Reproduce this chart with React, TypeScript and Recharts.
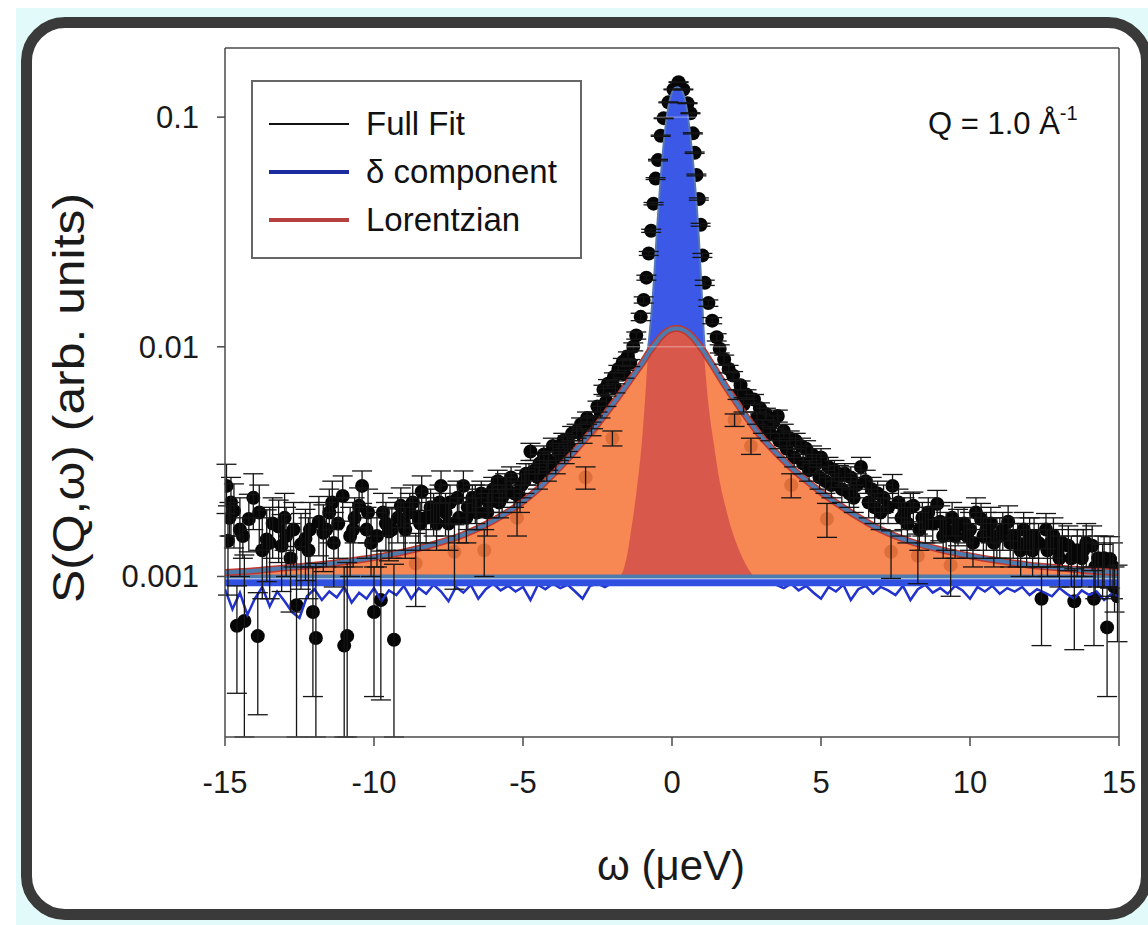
import React from 'react';
import {
  ComposedChart,
  Area,
  Line,
  Scatter,
  ErrorBar,
  XAxis,
  YAxis,
  ReferenceLine,
  Label,
} from 'recharts';

const FONT = '"Liberation Sans", Arial, Helvetica, sans-serif';

const xTicks = [-15, -10, -5, 0, 5, 10, 15];
const yTicks = [0.001, 0.01, 0.1];
const BASE = 0.001;
const Y_MIN = 0.0002;

// fitted curves on one grid (omega in ueV)
const fitX = [
  -15, -14, -13, -12, -11, -10, -9, -8, -7, -6, -5, -4.5, -4, -3.5, -3, -2.5, -2,
  -1.6, -1.3, -1.1, -1, -0.9, -0.8, -0.7, -0.6, -0.5, -0.4, -0.3, -0.2, -0.1, 0,
  0.1, 0.2, 0.3, 0.4, 0.5, 0.6, 0.7, 0.8, 0.9, 1, 1.1, 1.2, 1.4, 1.7, 2, 2.5, 3,
  3.5, 4, 4.5, 5, 6, 7, 8, 9, 10, 11, 12, 13, 14, 15,
];
const lorentzY = [
  0.00104, 0.00106, 0.00109, 0.00112, 0.00116, 0.00121, 0.00128, 0.00138, 0.00152,
  0.00175, 0.00212, 0.0024, 0.00278, 0.00325, 0.00385, 0.0046, 0.0056, 0.0066,
  0.0075, 0.00815, 0.0085, 0.0089, 0.00935, 0.00975, 0.01015, 0.01055, 0.01095,
  0.0113, 0.0116, 0.0118, 0.01195, 0.012, 0.012, 0.01195, 0.0118, 0.0116, 0.0113,
  0.011, 0.0106, 0.0102, 0.0098, 0.0094, 0.00895, 0.00815, 0.00705, 0.00615,
  0.00495, 0.00405, 0.00345, 0.00298, 0.00262, 0.00233, 0.0019, 0.0016, 0.00142,
  0.00131, 0.00123, 0.00117, 0.00112, 0.00109, 0.00106, 0.00104,
];
const fullFitY = [
  0.00104, 0.00106, 0.00109, 0.00112, 0.00116, 0.00121, 0.00128, 0.00138, 0.00152,
  0.00175, 0.00212, 0.0024, 0.00278, 0.00325, 0.00385, 0.0046, 0.0056, 0.0066,
  0.0075, 0.00815, 0.0085, 0.0089, 0.01, 0.0135, 0.02, 0.033, 0.05, 0.072, 0.095,
  0.115, 0.128, 0.134, 0.135, 0.132, 0.124, 0.108, 0.086, 0.065, 0.046, 0.03,
  0.017, 0.01, 0.00895, 0.00815, 0.00705, 0.00615, 0.00495, 0.00405, 0.00345,
  0.00298, 0.00262, 0.00233, 0.0019, 0.0016, 0.00142, 0.00131, 0.00123, 0.00117,
  0.00112, 0.00109, 0.00106, 0.00104,
];

// delta component, central part
const deltaX = [
  -2, -1.8, -1.7, -1.6, -1.5, -1.4, -1.2, -1, -0.9, -0.8, -0.7, -0.6, -0.5, -0.4,
  -0.3, -0.2, -0.1, 0, 0.1, 0.2, 0.3, 0.4, 0.5, 0.6, 0.7, 0.8, 0.9, 1, 1.1, 1.2,
  1.4, 1.6, 1.8, 2, 2.2, 2.4, 2.6, 2.8, 3,
];
const deltaY = [
  0.001, 0.001, 0.00102, 0.0011, 0.00125, 0.0015, 0.0023, 0.004, 0.006, 0.0095,
  0.013, 0.019, 0.028, 0.04, 0.062, 0.085, 0.104, 0.116, 0.121, 0.123, 0.12, 0.112,
  0.096, 0.075, 0.055, 0.036, 0.022, 0.0125, 0.0085, 0.006, 0.0038, 0.0026, 0.002,
  0.0016, 0.00135, 0.00118, 0.00106, 0.001, 0.001,
];

// delta component, noisy wings
const wingLeftX = [
  -15, -14.75, -14.5, -14.25, -14, -13.75, -13.5, -13.25, -13, -12.75, -12.5, -12.25,
  -12, -11.75, -11.5, -11.25, -11, -10.75, -10.5, -10.25, -10, -9.75, -9.5, -9.25,
  -9, -8.75, -8.5, -8.25, -8, -7.75, -7.5, -7.25, -7, -6.75, -6.5, -6.25, -6, -5.75,
  -5.5, -5.25, -5, -4.75, -4.5, -4.25, -4, -3.75, -3.5, -3.25, -3, -2.75, -2.5,
  -2.25, -2,
];
const wingLeftY = [
  0.00088, 0.00072, 0.00085, 0.00068, 0.0008, 0.0009, 0.00074, 0.00086, 0.00078,
  0.0007, 0.00066, 0.00082, 0.00088, 0.00079, 0.00086, 0.00081, 0.0009, 0.00077,
  0.00085, 0.0008, 0.00089, 0.00078, 0.00087, 0.00083, 0.00091, 0.0008, 0.00089,
  0.00084, 0.00092, 0.00086, 0.00078, 0.0009, 0.00085, 0.00092, 0.0008, 0.00088,
  0.00093, 0.00087, 0.00091, 0.00086, 0.0009, 0.00079, 0.00092, 0.00088, 0.00093,
  0.00089, 0.00092, 0.00086, 0.0008, 0.00091, 0.00093, 0.0009, 0.00094,
];
const wingRightX = [
  3.25, 3.5, 3.75, 4, 4.25, 4.5, 4.75, 5, 5.25, 5.5, 5.75, 6, 6.25, 6.5, 6.75, 7,
  7.25, 7.5, 7.75, 8, 8.25, 8.5, 8.75, 9, 9.25, 9.5, 9.75, 10, 10.25, 10.5, 10.75,
  11, 11.25, 11.5, 11.75, 12, 12.25, 12.5, 12.75, 13, 13.25, 13.5, 13.75, 14, 14.25,
  14.5, 14.75, 15,
];
const wingRightY = [
  0.00094, 0.00092, 0.00089, 0.00093, 0.00087, 0.00091, 0.00085, 0.0008, 0.0009,
  0.00086, 0.00092, 0.00079, 0.00088, 0.00091, 0.00084, 0.0009, 0.00087, 0.00083,
  0.00091, 0.00079, 0.00088, 0.00092, 0.00085, 0.00089, 0.00084, 0.00091, 0.00087,
  0.0008, 0.0009, 0.00086, 0.00091, 0.00084, 0.00089, 0.00086, 0.0009, 0.00083,
  0.00088, 0.00085, 0.00082, 0.00089, 0.00084, 0.0008, 0.00087, 0.00083, 0.00086,
  0.00079, 0.00084, 0.00082,
];

// flat background level
const levelX = [-15, 15];
const levelY = [0.001, 0.001];
const levelLowY = [0.00094, 0.00094];

// measured S(Q,w)
const ptsX = [
  -14.95, -14.9, -14.8, -14.7, -14.6, -14.5, -14.35, -14.2, -14.05, -13.9, -13.75,
  -13.6, -13.4, -13.2, -13.1, -12.95, -12.8, -12.6, -12.45, -12.3, -12.15, -12.05,
  -11.95, -11.85, -11.7, -11.5, -11.35, -11.2, -11.05, -11, -10.9, -10.8, -10.65,
  -10.5, -10.4, -10.25, -10.1, -10, -9.9, -9.77, -9.6, -9.5, -9.33, -9.2, -9.1,
  -8.95, -8.8, -8.6, -8.45, -8.4, -8.25, -8.1, -7.9, -7.75, -7.6, -7.45, -7.3,
  -7.15, -7, -6.85, -6.7, -6.55, -6.4, -6.3, -6.15, -6, -5.85, -5.7, -5.55, -5.4,
  -5.2, -5.05, -4.9, -4.75, -4.6, -4.45, -4.3, -4.15, -4, -3.8, -3.65, -3.5, -3.35,
  -3.2, -3.05, -2.9, -2.85, -2.65, -2.5, -2.3, -2.15, -2, -1.95, -1.8, -1.65, -1.48,
  -1.3, -1.2, -1.05, -0.95, -0.86, -0.78, -0.7, -0.62, -0.55, -0.47, -0.38, -0.28,
  -0.12, 0.05, 0.22, 0.38, 0.52, 0.62, 0.7, 0.76, 0.82, 0.9, 0.96, 1.02, 1.1, 1.22,
  1.35, 1.5, 1.6, 1.75, 1.9, 2.05, 2.1, 2.3, 2.5, 2.65, 2.75, 2.95, 3.15, 3.4, 3.55,
  3.75, 3.95, 4, 4.15, 4.33, 4.5, 4.7, 4.85, 5, 5.2, 5.25, 5.45, 5.6, 5.8, 6, 6.2,
  6.34, 6.5, 6.7, 6.9, 7.1, 7.35, 7.4, 7.6, 7.8, 8, 8.1, 8.25, 8.4, 8.6, 8.75, 8.9,
  9, 9.2, 9.35, 9.4, 9.6, 9.8, 10, 10.2, 10.37, 10.55, 10.7, 10.9, 11.1, 11.28,
  11.45, 11.6, 11.8, 12, 12.15, 12.3, 12.4, 12.55, 12.7, 12.8, 12.95, 13.1, 13.3,
  13.5, 13.6, 13.75, 13.9, 14.1, 14.16, 14.3, 14.45, 14.6, 14.7, 14.85, 14.95,
  -14.85, -14.4, -13.85, -13.5, -13, -12.7, -12.2, -11.6, -11.4, -10.7, -10.2, -9.7,
  -9.4, -9, -8.7, -8.5, -8, -7.8, -7.5, -7.2, -6.9, -6.6, -6.2, -6.05, -5.8, -5.6,
  -5.3, -5.1, -4.95, -4.8, -4.5, -4.2, -3.9, -3.6, -3.4, -3, -2.7, -2.4, -2.2, -1.9,
  -1.6, -1.4, 2.2, 2.4, 2.85, 3.05, 3.3, 3.6, 3.85, 4.1, 4.4, 4.6, 4.95, 5.15, 5.35,
  5.7, 5.95, 6.1, 6.6, 6.8, 7, 7.25, 7.7, 7.9, 8.3, 8.5, 9.1, 9.5, 9.9, 10.1, 10.45,
  10.8, 11, 11.35, 11.7, 11.9, 12.1, 12.6, 13, 13.4, 13.8, 14.2, 14.5, 14.8,
];
const ptsY = [
  0.00248, 0.00143, 0.0021, 0.00193, 0.00061, 0.0016, 0.00064, 0.00178, 0.0022,
  0.00055, 0.0013, 0.00145, 0.0017, 0.00165, 0.00136, 0.0015, 0.0012, 0.00075,
  0.00138, 0.00146, 0.0016, 0.0007, 0.00054, 0.00173, 0.00155, 0.0019, 0.0014,
  0.0017, 0.00224, 0.0005, 0.00055, 0.0015, 0.0018, 0.00203, 0.00248, 0.0016,
  0.0014, 0.0007, 0.0015, 0.00079, 0.0017, 0.00157, 0.00053, 0.0018, 0.00203,
  0.0016, 0.0019, 0.00114, 0.0017, 0.00234, 0.0018, 0.002, 0.0017, 0.00248, 0.0019,
  0.0021, 0.00128, 0.0018, 0.00248, 0.002, 0.0022, 0.0019, 0.0023, 0.0013, 0.0021,
  0.0024, 0.0026, 0.0022, 0.0024, 0.0027, 0.0018, 0.0025, 0.0028, 0.0035, 0.0029,
  0.0031, 0.0034, 0.0032, 0.0037, 0.0035, 0.0039, 0.0038, 0.0042, 0.0043, 0.0046,
  0.0027, 0.0049, 0.0047, 0.0055, 0.0065, 0.0069, 0.004, 0.0074, 0.008, 0.0086,
  0.0091, 0.01, 0.0112, 0.0135, 0.016, 0.02, 0.0255, 0.032, 0.042, 0.054, 0.065,
  0.083, 0.099, 0.116, 0.132, 0.142, 0.132, 0.115, 0.104, 0.085, 0.07, 0.056, 0.044,
  0.034, 0.025, 0.019, 0.0155, 0.013, 0.011, 0.0098, 0.0088, 0.008, 0.0075, 0.0048,
  0.0068, 0.0062, 0.0037, 0.0059, 0.0054, 0.0051, 0.0047, 0.005, 0.0043, 0.004,
  0.0025, 0.0039, 0.0037, 0.0036, 0.0034, 0.0031, 0.0033, 0.00178, 0.003, 0.0029,
  0.00274, 0.0028, 0.0027, 0.0025, 0.003, 0.0026, 0.0024, 0.0023, 0.0022, 0.00128,
  0.00248, 0.0021, 0.0019, 0.002, 0.00203, 0.00123, 0.0018, 0.0019, 0.0017, 0.00207,
  0.00173, 0.0016, 0.00112, 0.0018, 0.00166, 0.0017, 0.0016, 0.0019, 0.00178,
  0.0016, 0.0017, 0.0015, 0.0016, 0.00173, 0.0015, 0.0014, 0.0016, 0.0015, 0.0015,
  0.0014, 0.0008, 0.0016, 0.0014, 0.0015, 0.0013, 0.0014, 0.00136, 0.00078, 0.0013,
  0.0012, 0.0014, 0.00136, 0.0008, 0.0012, 0.0011, 0.0006, 0.00119, 0.0009, 0.00082,
  0.0018, 0.0015, 0.0019, 0.0014, 0.0018, 0.0016, 0.0013, 0.0016, 0.0021, 0.0016,
  0.0019, 0.0019, 0.0016, 0.0017, 0.0021, 0.0018, 0.0019, 0.0021, 0.0017, 0.0022,
  0.0018, 0.0021, 0.0019, 0.0022, 0.0021, 0.0025, 0.0023, 0.0022, 0.0026, 0.0028,
  0.0027, 0.0029, 0.0031, 0.0034, 0.0036, 0.0041, 0.0044, 0.0052, 0.0058, 0.0066,
  0.0076, 0.0085, 0.0062, 0.0056, 0.0049, 0.0045, 0.0042, 0.0039, 0.0036, 0.0033,
  0.0031, 0.0029, 0.0027, 0.0026, 0.0025, 0.0024, 0.0023, 0.0022, 0.0021, 0.002,
  0.0019, 0.002, 0.0018, 0.0017, 0.0016, 0.0017, 0.0015, 0.0015, 0.0015, 0.0014,
  0.0015, 0.0014, 0.0015, 0.0014, 0.0013, 0.0014, 0.0013, 0.0013, 0.0012, 0.0012,
  0.0013, 0.0011, 0.0012, 0.0011,
];
const ptsErr = [
  0.0006, 0.0006, 0.0006, 0.0006, 0.0003, 0.0006, 0.0006, 0.0005, 0.0006, 0.0003,
  0.0005, 0.0005, 0.0005, 0.0005, 0.0005, 0.0005, 0.0005, 0.0006, 0.0005, 0.0005,
  0.0005, 0.0004, 0.0006, 0.0005, 0.0005, 0.0005, 0.0005, 0.0005, 0.0005, 0.0006,
  0.0006, 0.0005, 0.0004, 0.0004, 0.0004, 0.0004, 0.0004, 0.0004, 0.0004, 0.0005,
  0.0004, 0.0004, 0.0006, 0.0004, 0.0004, 0.0004, 0.0004, 0.0004, 0.0004, 0.0004,
  0.0004, 0.0004, 0.0004, 0.0004, 0.0004, 0.0004, 0.0004, 0.0004, 0.0004, 0.0004,
  0.0003, 0.0003, 0.0003, 0.0003, 0.0003, 0.0003, 0.0003, 0.0003, 0.0003, 0.0003,
  0.0003, 0.0003, 0.0003, 0.0003, 0.0003, 0.0003, 0.0003, 0.0003, 0.0003, 0.0003,
  0.0003, 0.0003, 0.0003, 0.0003, 0.0003, 0.0003, 0.0003, 0.0003, 0.0003, 0.0003,
  0.0003, 0.0003, 0.0003, 0.0003, 0.0003, 0.0004, 0.0004, 0.0004, 0.0005, 0.0005,
  0.0005, 0.0005, 0.0005, 0.0005, 0.0005, 0.0005, 0.0005, 0.0005, 0.0005, 0.0005,
  0.0005, 0.0005, 0.0005, 0.0005, 0.0005, 0.0005, 0.0005, 0.0005, 0.0005, 0.0005,
  0.0005, 0.0005, 0.0004, 0.0004, 0.0004, 0.0004, 0.0003, 0.0003, 0.0003, 0.0003,
  0.0003, 0.0003, 0.0003, 0.0003, 0.0003, 0.0003, 0.0003, 0.0003, 0.0003, 0.0003,
  0.0003, 0.0003, 0.0003, 0.0003, 0.0003, 0.0003, 0.0003, 0.0003, 0.0003, 0.0003,
  0.0003, 0.0003, 0.0003, 0.0003, 0.0003, 0.0003, 0.0003, 0.0003, 0.0003, 0.0003,
  0.0003, 0.0003, 0.0003, 0.0003, 0.0003, 0.0003, 0.0003, 0.0003, 0.0003, 0.0003,
  0.0003, 0.0003, 0.0003, 0.0003, 0.0003, 0.0003, 0.0003, 0.0003, 0.0003, 0.0003,
  0.0003, 0.0003, 0.0003, 0.0003, 0.0003, 0.0003, 0.0003, 0.0003, 0.0003, 0.0003,
  0.00028, 0.0003, 0.0003, 0.0003, 0.0003, 0.0003, 0.0003, 0.0003, 0.0003, 0.0003,
  0.0003, 0.0003, 0.0003, 0.00028, 0.0003, 0.0003, 0.0002, 0.0003, 0.0003, 0.0003,
  0.0006, 0.0006, 0.0005, 0.0005, 0.0005, 0.0005, 0.0005, 0.0005, 0.0005, 0.0004,
  0.0004, 0.0004, 0.0004, 0.0004, 0.0004, 0.0004, 0.0004, 0.0004, 0.0004, 0.0004,
  0.0004, 0.0003, 0.0003, 0.0003, 0.0003, 0.0003, 0.0003, 0.0003, 0.0003, 0.0003,
  0.0003, 0.0003, 0.0003, 0.0003, 0.0003, 0.0003, 0.0003, 0.0003, 0.0003, 0.0003,
  0.0003, 0.0004, 0.0003, 0.0003, 0.0003, 0.0003, 0.0003, 0.0003, 0.0003, 0.0003,
  0.0003, 0.0003, 0.0003, 0.0003, 0.0003, 0.0003, 0.0003, 0.0003, 0.0003, 0.0003,
  0.0003, 0.0003, 0.0003, 0.0003, 0.0003, 0.0003, 0.0003, 0.0003, 0.0003, 0.0003,
  0.0003, 0.0003, 0.0003, 0.0003, 0.0003, 0.0003, 0.0003, 0.0003, 0.0003, 0.0003,
  0.0003, 0.0003, 0.0003, 0.0003,
];

const legendItems = [
  { name: 'Full Fit', color: '#111111', width: 2 },
  { name: '\u03b4 component', color: '#1c2b9e', width: 4 },
  { name: 'Lorentzian', color: '#b5403e', width: 4 },
];

const fitData = fitX.map((x, i) => ({
  x,
  lor: lorentzY[i],
  full: fullFitY[i],
  lorBand: [BASE, lorentzY[i]],
  peakBand: [lorentzY[i], fullFitY[i]],
}));
const deltaData = deltaX.map((x, i) => ({ x, band: [BASE, deltaY[i]] }));
const wingLeft = wingLeftX.map((x, i) => ({ x, v: wingLeftY[i] }));
const wingRight = wingRightX.map((x, i) => ({ x, v: wingRightY[i] }));
const level = levelX.map((x, i) => ({ x, hi: levelY[i], lo: levelLowY[i] }));
const points = ptsX.map((x, i) => ({
  x,
  y: ptsY[i],
  // lower whisker stops at the bottom of the axis (log scale)
  err: [Math.min(ptsErr[i], ptsY[i] - Y_MIN), ptsErr[i]],
}));

const Dot = (p: any) => <circle cx={p.cx} cy={p.cy} r={7} fill="#060606" />;

const tickStyle = { fontSize: 31, fill: '#1a1a1a', fontFamily: FONT };

export default function App() {
  return (
    <div
      style={{
        position: 'absolute',
        left: 0,
        top: 0,
        width: 1148,
        height: 925,
        overflow: 'hidden',
        background: '#fff',
        fontFamily: FONT,
      }}
    >
      <div style={{ position: 'absolute', left: 16, top: 8, right: 0, bottom: 0, background: '#e3fafb' }} />
      <div
        style={{
          position: 'absolute',
          left: 21,
          top: 17,
          width: 1131,
          height: 903,
          boxSizing: 'border-box',
          border: '11px solid #3a3a3a',
          borderRadius: 44,
          background: '#fff',
        }}
      />
      <div style={{ position: 'absolute', left: 0, top: 0 }}>
        <ComposedChart width={1148} height={925} margin={{ top: 48, right: 29, bottom: 128, left: 125 }}>
          <XAxis
            dataKey="x"
            type="number"
            domain={[-15, 15]}
            ticks={xTicks}
            allowDataOverflow
            height={60}
            tickSize={9}
            tickMargin={25}
            stroke="#4a4a4a"
            strokeWidth={1.5}
            tick={tickStyle}
          >
            <Label
              content={() => (
                <text x={671} y={880} textAnchor="middle" fontSize={42} fill="#1a1a1a" fontFamily={FONT}>
                  {'\u03c9 (\u03bceV)'}
                </text>
              )}
            />
          </XAxis>
          <YAxis
            type="number"
            scale="log"
            domain={[Y_MIN, 0.2]}
            ticks={yTicks}
            allowDataOverflow
            width={100}
            tickSize={8}
            tickMargin={18}
            stroke="#4a4a4a"
            strokeWidth={1.5}
            tick={tickStyle}
            tickFormatter={(v: number) => String(v)}
          >
            <Label
              content={() => (
                <text
                  transform="translate(84,398) rotate(-90)"
                  textAnchor="middle"
                  fontSize={44}
                  fill="#1a1a1a"
                  fontFamily={FONT}
                  textLength={410}
                  lengthAdjust="spacingAndGlyphs"
                >
                  {'S(Q,\u03c9) (arb. units)'}
                </text>
              )}
            />
          </YAxis>

          <Scatter data={points} dataKey="y" shape={Dot} isAnimationActive={false} zIndex={100}>
            <ErrorBar dataKey="err" direction="y" width={10} stroke="#151515" strokeWidth={1.3} />
          </Scatter>

          <Area
            data={fitData}
            dataKey="lorBand"
            type="monotone"
            fill="#f67a40"
            fillOpacity={0.9}
            stroke="none"
            isAnimationActive={false}
            zIndex={200}
          />
          <Area
            data={deltaData}
            dataKey="band"
            type="monotone"
            fill="#d9584c"
            fillOpacity={1}
            stroke="none"
            isAnimationActive={false}
            zIndex={210}
          />
          <Area
            data={fitData}
            dataKey="peakBand"
            type="monotone"
            fill="#3b58e6"
            fillOpacity={1}
            stroke="none"
            isAnimationActive={false}
            zIndex={220}
          />

          <Line data={wingLeft} dataKey="v" type="linear" stroke="#2232cc" strokeWidth={2.5} dot={false} isAnimationActive={false} zIndex={300} />
          <Line data={wingRight} dataKey="v" type="linear" stroke="#2232cc" strokeWidth={2.5} dot={false} isAnimationActive={false} zIndex={300} />
          <Line data={level} dataKey="lo" stroke="#3050e2" strokeWidth={7} dot={false} isAnimationActive={false} zIndex={310} />
          <Line data={level} dataKey="hi" stroke="#4e7aae" strokeWidth={4} dot={false} isAnimationActive={false} zIndex={320} />

          <Line data={fitData} dataKey="full" type="monotone" stroke="#5577b8" strokeWidth={2} dot={false} isAnimationActive={false} zIndex={330} />
          <Line data={fitData} dataKey="lor" type="monotone" stroke="#c0392f" strokeWidth={7} dot={false} isAnimationActive={false} zIndex={340} />
          <Line data={fitData} dataKey="lor" type="monotone" stroke="#4e7aae" strokeWidth={4} dot={false} isAnimationActive={false} zIndex={350} />

          <ReferenceLine y={0.1} stroke="rgba(255,255,255,0.45)" strokeWidth={1} zIndex={400} />
          <ReferenceLine y={0.01} stroke="rgba(255,255,255,0.45)" strokeWidth={1} zIndex={400} />
          <ReferenceLine y={0.2} stroke="#4a4a4a" strokeWidth={1.5} zIndex={400} />
          <ReferenceLine x={15} stroke="#4a4a4a" strokeWidth={1.5} zIndex={400} />
        </ComposedChart>
      </div>

      <div
        style={{
          position: 'absolute',
          left: 251,
          top: 80,
          width: 331,
          height: 179,
          boxSizing: 'border-box',
          border: '2px solid #666',
          background: '#fff',
        }}
      >
        {legendItems.map((it, i) => (
          <div
            key={it.name}
            style={{
              position: 'absolute',
              left: 0,
              top: 42 + i * 48 - 22,
              height: 44,
              display: 'flex',
              alignItems: 'center',
              whiteSpace: 'nowrap',
            }}
          >
            <svg width={113} height={44} style={{ display: 'block' }}>
              <line x1={16} x2={96} y1={22} y2={22} stroke={it.color} strokeWidth={it.width} />
            </svg>
            <span style={{ fontSize: 33, color: '#111', lineHeight: '44px' }}>{it.name}</span>
          </div>
        ))}
      </div>

      <svg width={1148} height={925} style={{ position: 'absolute', left: 0, top: 0, pointerEvents: 'none' }}>
        <text x={928} y={134} fontSize={31} fill="#111" fontFamily={FONT}>
          {'Q = 1.0 \u00c5'}
          <tspan dy={-14} fontSize={20}>
            -1
          </tspan>
        </text>
      </svg>
    </div>
  );
}
